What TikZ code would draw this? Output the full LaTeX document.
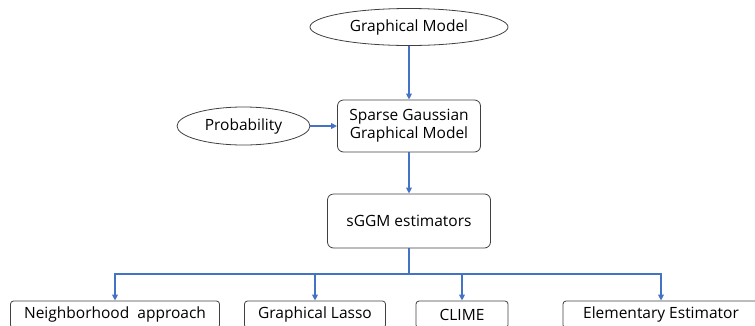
\documentclass[tikz,border=0pt]{standalone}
\usepackage{fontspec}
\setmainfont{Open Sans}
\usepackage{tikz}
\usetikzlibrary{shapes.geometric,arrows.meta}
\definecolor{ggblue}{HTML}{4472C4}
\definecolor{ggline}{HTML}{404040}

\tikzset{
  oval/.style={ellipse, draw=ggline, line width=0.8pt, inner sep=0pt},
  ggbox/.style={draw=ggline, line width=0.8pt, rounded corners=6pt, inner sep=0pt, align=center},
  leaf/.style={draw=ggline, line width=0.8pt, rounded corners=3pt, inner sep=0pt, minimum height=27pt},
  link/.style={ggblue, line width=2pt, -{Triangle[length=6pt,width=5.5pt]}}
}

\begin{document}
\begin{tikzpicture}[x=1pt, y=-1pt, font=\fontsize{15.5}{18}\selectfont]
  \useasboundingbox (0,0) rectangle (755,325);
  \clip (0,0) rectangle (755,325);
  % top level
  \node[oval, minimum width=198pt, minimum height=37pt] (gm) at (409,27) {Graphical Model};
  \node[oval, minimum width=133pt, minimum height=38pt] (prob) at (243.5,126) {Probability};
  \node[ggbox, minimum width=143pt, minimum height=52pt] (sggm) at (409,126) {Sparse Gaussian\\Graphical Model};
  \node[ggbox, minimum width=163pt, minimum height=54pt] (est) at (409,221) {sGGM estimators};
  % estimators
  \node[leaf, minimum width=209pt] (nbr) at (115,314.5) {Neighborhood\ \ approach};
  \node[leaf, minimum width=141pt] (glasso) at (315,314.5) {Graphical Lasso};
  \node[leaf, minimum width=92pt] (clime) at (462,314.5) {CLIME};
  \node[leaf, minimum width=196pt] (elem) at (661,314.5) {Elementary Estimator};
  \coordinate (split) at (409,274);
  % connectors
  \draw[link] (gm) -- (sggm);
  \draw[link] (prob) -- (sggm);
  \draw[link] (sggm) -- (est);
  \draw[ggblue, line width=2pt] (est) -- (split);
  \draw[link] (split) -| (nbr.north);
  \draw[link] (split) -| (glasso.north);
  \draw[link] (split) -| (clime.north);
  \draw[link] (split) -| (elem.north);
\end{tikzpicture}
\end{document}
